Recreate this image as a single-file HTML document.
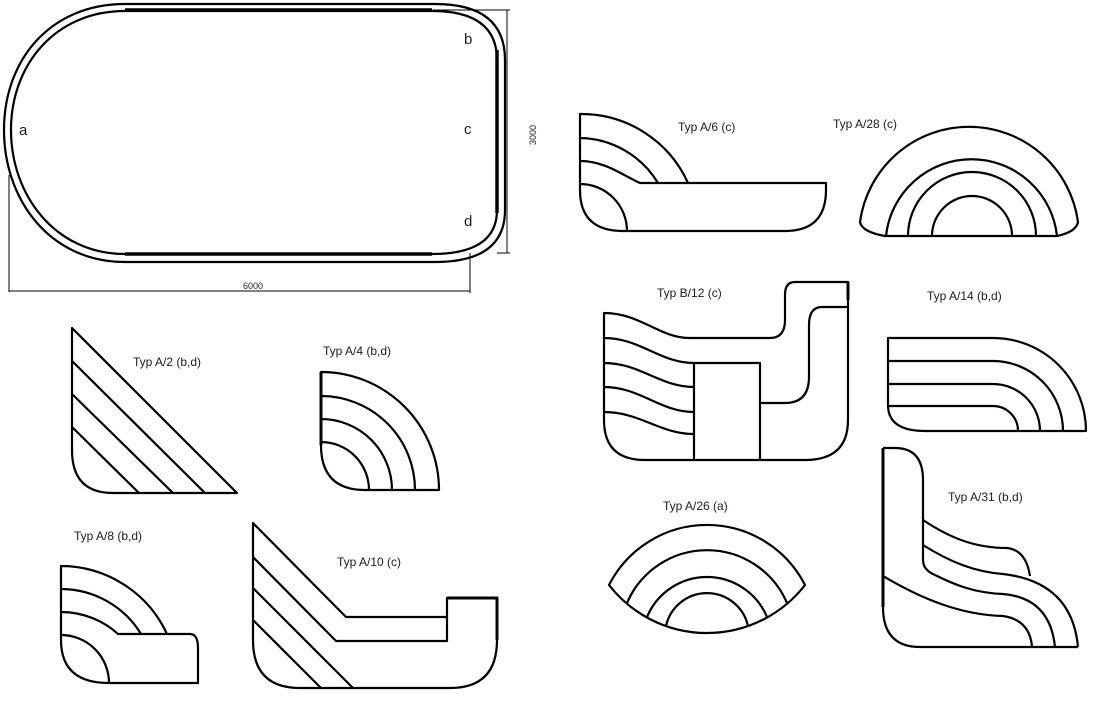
<!DOCTYPE html>
<html><head><meta charset="utf-8"><style>
html,body{margin:0;padding:0;background:#fff;}
svg{display:block}
text{font-family:"Liberation Sans",Arial,sans-serif;fill:#1a1a2a;}
</style></head><body>
<svg width="1104" height="708" viewBox="0 0 1104 708" xmlns="http://www.w3.org/2000/svg">
<g fill="none" stroke="#000" stroke-width="2.2" stroke-linejoin="round">
<!-- pool -->
<path d="M125,4 L435,4 Q505,4 505,60 L505,210 Q505,262 435,262 L125,262 C50,262 4,200 4,130 C4,60 50,4 125,4 Z"/>
<path d="M125,11 L432,11 Q497,11 497,60 L497,210 Q497,254 432,254 L125,254 C55,254 11,195 11,130 C11,65 55,11 125,11 Z"/>
<path d="M125,10 L432,10 M125,254 L432,254 M497,50 L497,213" stroke-width="3.5"/>
</g>
<g stroke="#000" stroke-width="1" fill="none">
<path d="M433,10 L510,10 M497,253 L510,253 M507,10 L507,253"/>
<path d="M9,175 L9,292 M470,253 L470,293 M9,291 L470,291"/>
</g>
<text x="243" y="289" font-size="9">6000</text>
<text x="0" y="0" font-size="9" transform="translate(536,145) rotate(-90)">3000</text>
<text x="19" y="135" font-size="15">a</text>
<text x="464" y="44" font-size="15">b</text>
<text x="464" y="134" font-size="15">c</text>
<text x="464" y="226" font-size="15" fill="#5a1a1a">d</text>

<g fill="none" stroke="#000" stroke-width="2.2" stroke-linejoin="round">
<!-- A/2 -->
<path d="M72,328 L237,493 L113,493 Q72,493 72,450 Z"/>
<path d="M72,361 L205,493 M72,394 L173,493 M72,427 L139,493"/>
<!-- A/4 -->
<path d="M321,372 A118,118 0 0 1 439,490 L365,490 Q321,490 321,445 Z"/>
<path d="M321,396 A94,94 0 0 1 415,490 M321,419 A71,71 0 0 1 392,490 M321,442 A48,48 0 0 1 369,490"/>
<path d="M321,372 L321,445" stroke-width="3"/>
<!-- A/8 -->
<path d="M61,566 A117,117 0 0 1 167,634 L190,634 Q198,634 198,648 L198,683 L109,683 Q61,683 61,640 Z"/>
<path d="M61,589 A94,94 0 0 1 141,634 M61,612 C85,612 105,622 118,634 L167,634 M61,635 A48,48 0 0 1 109,683"/>
<!-- A/10 -->
<path d="M253,523 L346,617 L447,617 L447,598 L497,598 L497,640 Q497,688 450,688 L300,688 Q253,688 253,640 Z"/>
<path d="M253,557 L336,641 L447,641 L447,617 M253,588 L353,688 M253,620 L321,688"/>
<path d="M447,598 L497,598 L497,640" stroke-width="3"/>
<!-- A/6 -->
<path d="M580,114 A117,117 0 0 1 688,183 L826,183 L826,190 Q826,231 785,231 L623,231 Q580,231 580,190 Z"/>
<path d="M580,138 A93,93 0 0 1 658,183 M580,161 C605,161 622,175 640,183 L688,183 M580,184 A47,47 0 0 1 627,231"/>
<!-- A/28 -->
<path d="M885,236 Q862,232 860,222 A110,110 0 0 1 1078,222 Q1076,232 1057,236 Z"/>
<path d="M886,236 A86,86 0 0 1 1057,236 M908,236 A64,64 0 0 1 1036,236 M932,236 A40,40 0 0 1 1012,236"/>
<!-- B/12 -->
<path d="M848,282 L795,282 Q785,282 785,295 L785,320 Q785,338 770,338 L689,338 C660,338 640,313 604,313 L604,420 Q604,460 645,460 L805,460 Q848,460 848,420 Z"/>
<path d="M848,307 L822,307 Q809,307 809,325 L809,377 Q809,403 785,403 L760,403"/>
<path d="M694,363 L760,363 L760,460 M694,363 L694,460"/>
<path d="M604,338 C640,338 660,363 694,363 M604,363 C640,363 660,387 694,387 M604,387 C640,387 660,412 694,412 M604,412 C640,412 660,434 694,434"/>
<path d="M848,282 L848,300" stroke-width="3"/>
<!-- A/14 -->
<path d="M888,338 L993,338 A93,93 0 0 1 1086,431 L925,431 Q888,431 888,405 Z"/>
<path d="M888,361 L993,361 A70,70 0 0 1 1063,431 M888,384 L993,384 A47,47 0 0 1 1040,431 M888,406 L993,406 A25,25 0 0 1 1018,431"/>
<!-- A/26 -->
<path d="M609,585 A110,110 0 0 1 805,585 A124,124 0 0 1 609,585 Z"/>
<path d="M627,603 A87,87 0 0 1 787,603 M647,617 A65,65 0 0 1 767,617 M666,626 A42,42 0 0 1 748,626"/>
<!-- A/31 -->
<path d="M883,448 L895,448 Q923,448 923,480 L923,560 Q923,570 935,575 M883,448 L883,607 Q883,647 920,647 L1078,647"/>
<path d="M923,520 C950,538 975,548 1007,548 Q1026,550 1030,576"/>
<path d="M923,545 C950,562 975,572 1003,574 Q1072,582 1078,647"/>
<path d="M935,575 C955,585 975,593 1003,594 Q1050,598 1055,647"/>
<path d="M883,576 C920,598 960,615 1003,616 Q1030,620 1032,647"/>
<path d="M883,448 L883,607" stroke-width="3"/>
</g>
<g font-size="12">
<text x="133" y="366">Typ A/2 (b,d)</text>
<text x="323" y="355">Typ A/4 (b,d)</text>
<text x="74" y="540">Typ A/8 (b,d)</text>
<text x="337" y="566">Typ A/10 (c)</text>
<text x="678" y="131">Typ A/6 (c)</text>
<text x="833" y="128">Typ A/28 (c)</text>
<text x="657" y="297">Typ B/12 (c)</text>
<text x="927" y="300">Typ A/14 (b,d)</text>
<text x="663" y="510">Typ A/26 (a)</text>
<text x="948" y="501">Typ A/31 (b,d)</text>
</g>
</svg>
</body></html>
